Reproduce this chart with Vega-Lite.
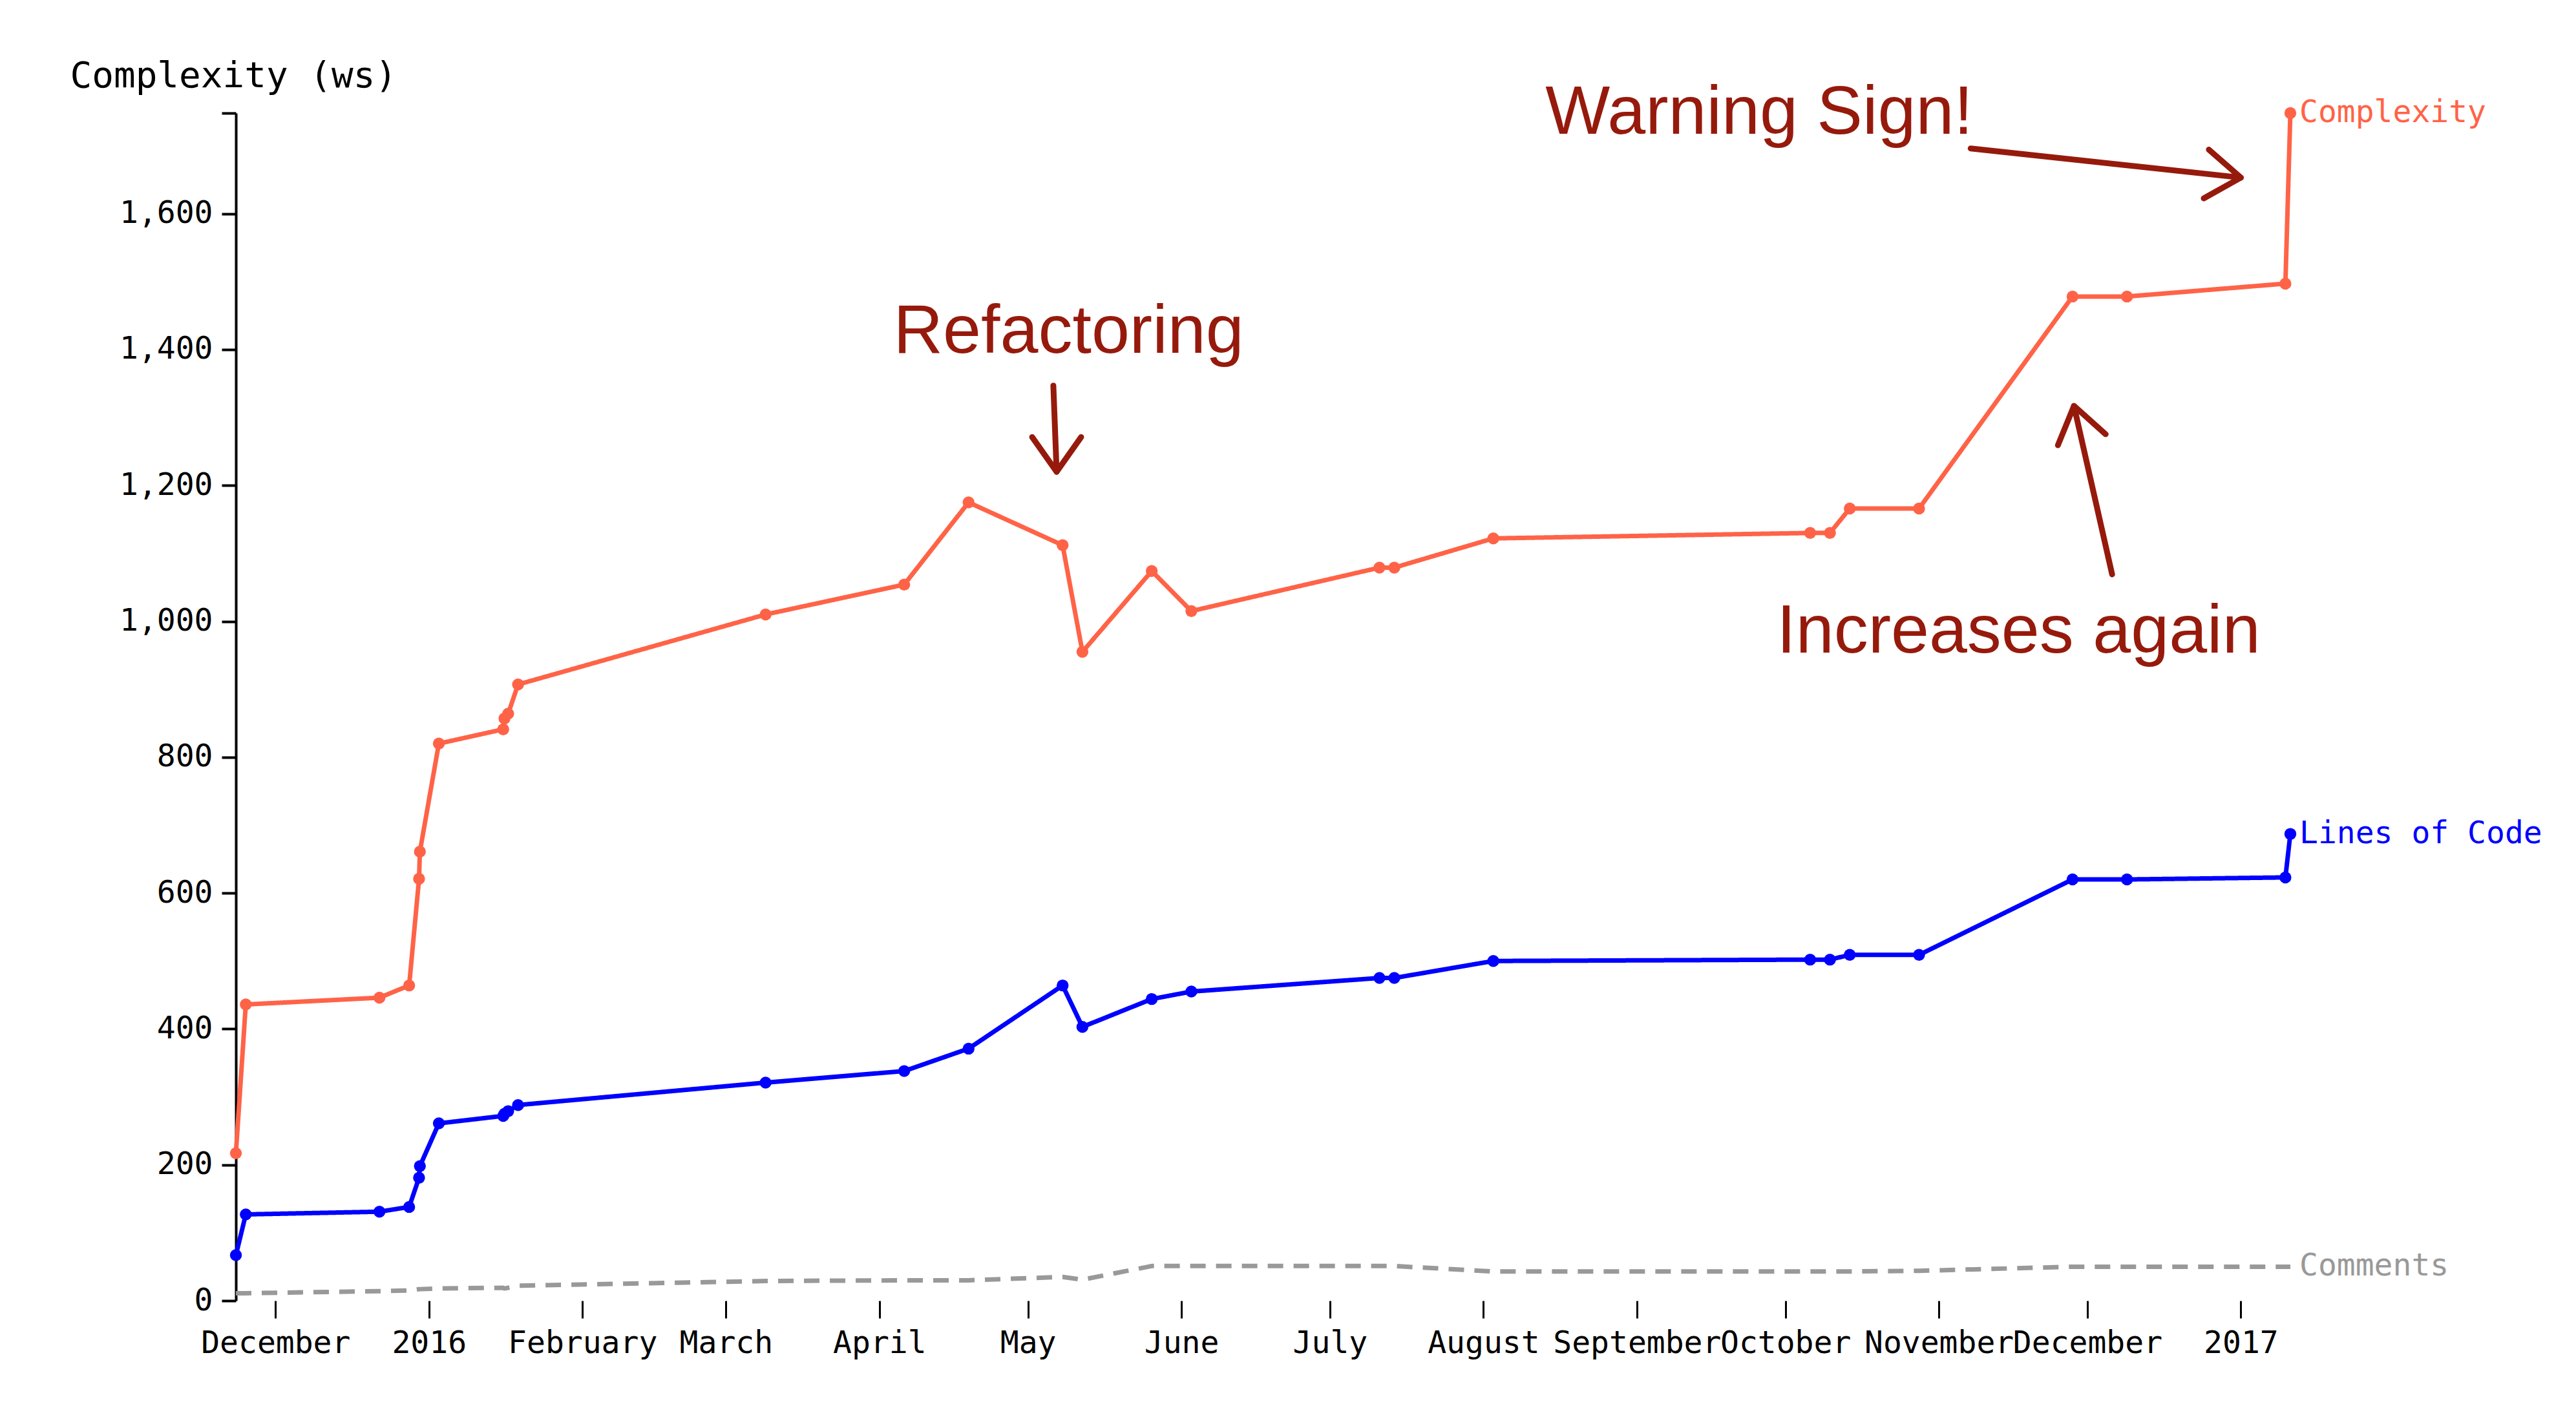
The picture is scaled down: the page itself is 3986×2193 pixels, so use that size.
{
  "$schema": "https://vega.github.io/schema/vega-lite/v6.json",
  "width": 3179,
  "height": 1838,
  "autosize": "none",
  "padding": {"left": 365, "top": 175, "right": 442, "bottom": 180},
  "background": "white",
  "config": {
    "view": {"stroke": null},
    "axis": {
      "labelFont": "DejaVu Sans Mono",
      "labelFontSize": 48,
      "labelColor": "#000000",
      "labelLimit": 0,
      "titleFont": "DejaVu Sans Mono",
      "titleFontSize": 56,
      "titleFontWeight": "normal",
      "titleColor": "#000000",
      "grid": false,
      "tickColor": "#000000",
      "domainColor": "#000000"
    }
  },
  "datasets": {
    "commits": [
      {"date": "2015-11-23T00:00:00Z", "Complexity": 217, "Lines of Code": 67, "Comments": 11},
      {"date": "2015-11-25T00:00:00Z", "Complexity": 436, "Lines of Code": 127, "Comments": 11},
      {"date": "2015-12-22T00:00:00Z", "Complexity": 446, "Lines of Code": 131, "Comments": 14},
      {"date": "2015-12-28T00:00:00Z", "Complexity": 464, "Lines of Code": 138, "Comments": 15},
      {"date": "2015-12-30T00:00:00Z", "Complexity": 621, "Lines of Code": 181, "Comments": 17},
      {"date": "2015-12-30T04:00:00Z", "Complexity": 661, "Lines of Code": 198, "Comments": 17},
      {"date": "2016-01-03T00:00:00Z", "Complexity": 820, "Lines of Code": 261, "Comments": 18},
      {"date": "2016-01-16T00:00:00Z", "Complexity": 841, "Lines of Code": 272, "Comments": 19},
      {"date": "2016-01-16T06:00:00Z", "Complexity": 857, "Lines of Code": 275, "Comments": 18},
      {"date": "2016-01-17T00:00:00Z", "Complexity": 864, "Lines of Code": 279, "Comments": 19},
      {"date": "2016-01-19T00:00:00Z", "Complexity": 907, "Lines of Code": 288, "Comments": 22},
      {"date": "2016-03-09T00:00:00Z", "Complexity": 1010, "Lines of Code": 321, "Comments": 29},
      {"date": "2016-04-06T00:00:00Z", "Complexity": 1054, "Lines of Code": 338, "Comments": 30},
      {"date": "2016-04-19T00:00:00Z", "Complexity": 1175, "Lines of Code": 371, "Comments": 30},
      {"date": "2016-05-08T00:00:00Z", "Complexity": 1112, "Lines of Code": 464, "Comments": 35},
      {"date": "2016-05-12T00:00:00Z", "Complexity": 955, "Lines of Code": 403, "Comments": 31},
      {"date": "2016-05-26T00:00:00Z", "Complexity": 1074, "Lines of Code": 444, "Comments": 51},
      {"date": "2016-06-03T00:00:00Z", "Complexity": 1015, "Lines of Code": 455, "Comments": 51},
      {"date": "2016-07-11T00:00:00Z", "Complexity": 1079, "Lines of Code": 475, "Comments": 51},
      {"date": "2016-07-14T00:00:00Z", "Complexity": 1079, "Lines of Code": 475, "Comments": 51},
      {"date": "2016-08-03T00:00:00Z", "Complexity": 1122, "Lines of Code": 500, "Comments": 43},
      {"date": "2016-10-06T00:00:00Z", "Complexity": 1130, "Lines of Code": 502, "Comments": 43},
      {"date": "2016-10-10T00:00:00Z", "Complexity": 1130, "Lines of Code": 502, "Comments": 43},
      {"date": "2016-10-14T00:00:00Z", "Complexity": 1166, "Lines of Code": 509, "Comments": 43},
      {"date": "2016-10-28T00:00:00Z", "Complexity": 1166, "Lines of Code": 509, "Comments": 44},
      {"date": "2016-11-28T00:00:00Z", "Complexity": 1478, "Lines of Code": 620, "Comments": 50},
      {"date": "2016-12-09T00:00:00Z", "Complexity": 1478, "Lines of Code": 620, "Comments": 50},
      {"date": "2017-01-10T00:00:00Z", "Complexity": 1497, "Lines of Code": 623, "Comments": 50},
      {"date": "2017-01-11T00:00:00Z", "Complexity": 1748, "Lines of Code": 687, "Comments": 50}
    ],
    "notes": [
      {"note": "Warning Sign!", "date": "2016-08-13T12:00:00Z", "value": 1718},
      {"note": "Refactoring", "date": "2016-04-03T20:00:00Z", "value": 1395},
      {"note": "Increases again", "date": "2016-09-29T06:00:00Z", "value": 954}
    ],
    "arrows": [
      {"arrow": "warning", "date": "2016-11-07T10:00:00Z", "value": 1696, "date2": "2017-01-01T00:00:00Z", "value2": 1653},
      {"arrow": "refactoring", "date": "2016-05-06T03:00:00Z", "value": 1347, "date2": "2016-05-06T19:00:00Z", "value2": 1220},
      {"arrow": "increases", "date": "2016-12-06T00:00:00Z", "value": 1069, "date2": "2016-11-28T07:00:00Z", "value2": 1317}
    ]
  },
  "layer": [
    {
      "data": {"name": "commits"},
      "transform": [{"fold": ["Complexity", "Lines of Code", "Comments"], "as": ["series", "value"]}],
      "mark": {"type": "line", "strokeWidth": 7, "strokeJoin": "round"},
      "encoding": {
        "x": {
          "field": "date", "type": "temporal",
          "scale": {"type": "utc", "nice": false},
          "axis": {
            "title": null, "domain": false, "tickSize": 27, "tickWidth": 3,
            "tickCount": {"interval": "month", "step": 1},
            "labelPadding": 15, "labelOverlap": false, "labelFlush": false, "labelBound": false
          }
        },
        "y": {
          "field": "value", "type": "quantitative",
          "scale": {"nice": false, "zero": true},
          "axis": {
            "title": "Complexity (ws)",
            "titleAngle": 0, "titleAlign": "left", "titleBaseline": "alphabetic",
            "titleX": -257, "titleY": -41,
            "values": [0, 200, 400, 600, 800, 1000, 1200, 1400, 1600, 1748],
            "labelExpr": "datum.value > 1700 ? '' : format(datum.value, ',')",
            "domainWidth": 4, "tickWidth": 4, "tickSize": 22, "labelPadding": 14
          }
        },
        "color": {
          "field": "series", "type": "nominal",
          "scale": {"domain": ["Complexity", "Lines of Code", "Comments"], "range": ["#ff6347", "#0000ff", "#999999"]},
          "legend": null
        },
        "strokeDash": {
          "field": "series", "type": "nominal",
          "scale": {"domain": ["Complexity", "Lines of Code", "Comments"], "range": [[1, 0], [1, 0], [24, 16]]},
          "legend": null
        }
      }
    },
    {
      "data": {"name": "commits"},
      "transform": [{"fold": ["Complexity", "Lines of Code"], "as": ["series", "value"]}],
      "mark": {"type": "point", "filled": true, "size": 340, "opacity": 1},
      "encoding": {
        "x": {"field": "date", "type": "temporal"},
        "y": {"field": "value", "type": "quantitative"},
        "color": {"field": "series", "type": "nominal", "legend": null}
      }
    },
    {
      "data": {"name": "commits"},
      "transform": [
        {"fold": ["Complexity", "Lines of Code", "Comments"], "as": ["series", "value"]},
        {"window": [{"op": "row_number", "as": "rank"}], "groupby": ["series"], "sort": [{"field": "date", "order": "descending"}]},
        {"filter": "datum.rank == 1"}
      ],
      "mark": {"type": "text", "align": "left", "baseline": "middle", "dx": 14, "font": "DejaVu Sans Mono", "fontSize": 48},
      "encoding": {
        "x": {"field": "date", "type": "temporal"},
        "y": {"field": "value", "type": "quantitative"},
        "text": {"field": "series"},
        "color": {"field": "series", "type": "nominal", "legend": null}
      }
    },
    {
      "data": {"name": "notes"},
      "mark": {"type": "text", "align": "left", "baseline": "alphabetic", "font": "Liberation Sans", "fontSize": 106, "color": "#961a0c"},
      "encoding": {
        "x": {"field": "date", "type": "temporal"},
        "y": {"field": "value", "type": "quantitative"},
        "text": {"field": "note"}
      }
    },
    {
      "data": {"name": "arrows", "format": {"parse": {"date": "date", "date2": "date"}}},
      "mark": {"type": "rule", "color": "#961a0c", "strokeWidth": 9, "strokeCap": "round"},
      "encoding": {
        "x": {"field": "date", "type": "temporal"},
        "y": {"field": "value", "type": "quantitative"},
        "x2": {"field": "date2"},
        "y2": {"field": "value2"}
      }
    },
    {
      "data": {"name": "arrows", "format": {"parse": {"date2": "date"}}},
      "transform": [{"filter": "datum.arrow == 'refactoring'"}],
      "mark": {"type": "point", "shape": "M-0.6,-0.85L0,0L0.6,-0.85", "filled": false, "size": 16000, "strokeWidth": 9, "strokeCap": "round", "strokeJoin": "round", "color": "#961a0c", "opacity": 1, "angle": 0},
      "encoding": {
        "x": {"field": "date2", "type": "temporal"},
        "y": {"field": "value2", "type": "quantitative"}
      }
    },
    {
      "data": {"name": "arrows", "format": {"parse": {"date2": "date"}}},
      "transform": [{"filter": "datum.arrow == 'warning'"}],
      "mark": {"type": "point", "shape": "M-0.6,-0.85L0,0L0.6,-0.85", "filled": false, "size": 16000, "strokeWidth": 9, "strokeCap": "round", "strokeJoin": "round", "color": "#961a0c", "opacity": 1, "angle": 276},
      "encoding": {
        "x": {"field": "date2", "type": "temporal"},
        "y": {"field": "value2", "type": "quantitative"}
      }
    },
    {
      "data": {"name": "arrows", "format": {"parse": {"date2": "date"}}},
      "transform": [{"filter": "datum.arrow == 'increases'"}],
      "mark": {"type": "point", "shape": "M-0.6,-0.85L0,0L0.6,-0.85", "filled": false, "size": 16000, "strokeWidth": 9, "strokeCap": "round", "strokeJoin": "round", "color": "#961a0c", "opacity": 1, "angle": 167},
      "encoding": {
        "x": {"field": "date2", "type": "temporal"},
        "y": {"field": "value2", "type": "quantitative"}
      }
    }
  ]
}
